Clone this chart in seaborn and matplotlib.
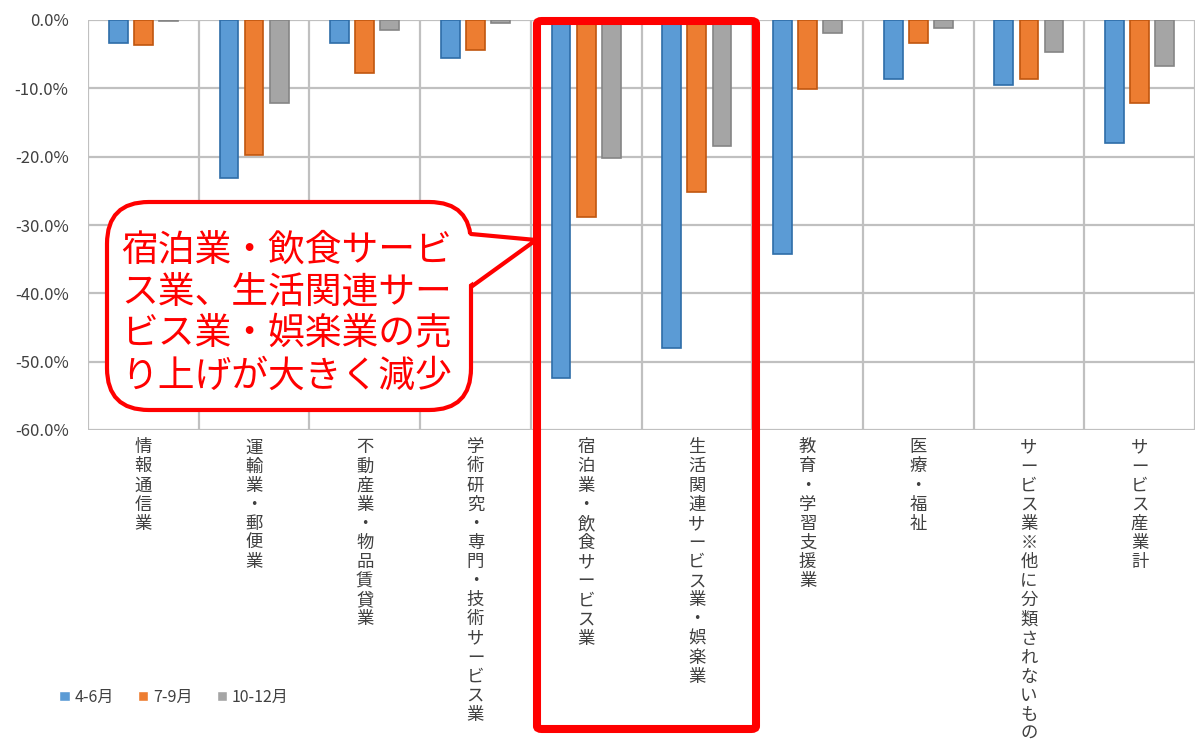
import matplotlib
matplotlib.use("Agg")
import matplotlib.pyplot as plt
import matplotlib.patches as mpatches
from matplotlib.lines import Line2D
import numpy as np
import pandas as pd
import seaborn as sns

# --- data (percent change of sales) ---
categories = [
    "情報通信業",
    "運輸業・郵便業",
    "不動産業・物品賃貸業",
    "学術研究・専門・技術サービス業",
    "宿泊業・飲食サービス業",
    "生活関連サービス業・娯楽業",
    "教育・学習支援業",
    "医療・福祉",
    "サービス業※他に分類されないもの",
    "サービス産業計",
]
periods = ["4-6月", "7-9月", "10-12月"]
q_apr_jun = [-3.4, -23.1, -3.4, -5.6, -52.4, -48.0, -34.3, -8.6, -9.5, -18.0]
q_jul_sep = [-3.7, -19.8, -7.8, -4.4, -28.8, -25.2, -10.1, -3.4, -8.6, -12.2]
q_oct_dec = [-0.2, -12.2, -1.5, -0.4, -20.2, -18.4, -1.9, -1.2, -4.7, -6.7]
callout_text = "宿泊業・飲食サービ\nス業、生活関連サー\nビス業・娯楽業の売\nり上げが大きく減少"

face_colors = ["#5B9BD5", "#ED7D31", "#A5A5A5"]
edge_colors = ["#2E6DA8", "#C0560F", "#858585"]

df = pd.DataFrame({
    "category": categories * 3,
    "period": np.repeat(periods, len(categories)),
    "value": q_apr_jun + q_jul_sep + q_oct_dec,
})

sns.set_theme(style="white")
plt.rcParams["font.family"] = ["Noto Sans CJK JP", "DejaVu Sans"]

W, H = 1195, 742
fig = plt.figure(figsize=(W / 100, H / 100), dpi=100)
ax = fig.add_axes([88 / W, 1 - 430 / H, 1 - 88 / W, (430 - 20) / H])


def fig_xy(x, y):
    return x / W, 1 - y / H


sns.barplot(data=df, x="category", y="value", hue="period", palette=face_colors,
            saturation=1, width=0.68, gap=0.25, ax=ax)
for cont, ec in zip(ax.containers, edge_colors):
    for bar in cont:
        bar.set_edgecolor(ec)
        bar.set_linewidth(1.2)

ax.set_ylim(-60, 0)
ax.set_xlim(-0.5, len(categories) - 0.5)
ax.set_yticks(np.arange(-60, 1, 10))
ax.set_yticklabels([f"{v:.1f}%" for v in np.arange(-60, 1, 10)])
ax.set_xticks(range(len(categories)))
ax.set_xticklabels(["\n".join(c) for c in categories], va="top", linespacing=1.08)
ax.set_xticks(np.arange(-0.5, len(categories), 1), minor=True)
ax.tick_params(axis="y", labelsize=12, pad=14, colors="#404040", length=0)
ax.tick_params(axis="x", labelsize=12.5, pad=6, colors="#404040", length=0)
ax.tick_params(axis="x", which="minor", length=0)
ax.set_xlabel("")
ax.set_ylabel("")
ax.grid(axis="y", which="major", color="#C0C0C0", linewidth=1.6)
ax.grid(axis="x", which="minor", color="#C0C0C0", linewidth=1.6)
ax.set_axisbelow(True)
for s in ax.spines.values():
    s.set_visible(False)

handles, labels = ax.get_legend_handles_labels()
ax.get_legend().remove()
fig.legend(handles, labels, loc="center left", bbox_to_anchor=fig_xy(45, 697),
           ncol=3, frameon=False, fontsize=11.5, handlelength=0.65, handleheight=0.65,
           handletextpad=0.3, columnspacing=1.5, labelcolor="#404040")

# red highlight rectangle
x0, y0 = fig_xy(537, 729)
x1, y1 = fig_xy(756, 21)
fig.patches.append(mpatches.FancyBboxPatch(
    (x0, y0), x1 - x0, y1 - y0, boxstyle="round,pad=0,rounding_size=0.004",
    transform=fig.transFigure, fill=False, edgecolor="#FF0000", linewidth=5.8, zorder=20))

# callout bubble
bx0, by0 = fig_xy(107, 410)
bx1, by1 = fig_xy(471, 202)
fig.patches.append(mpatches.FancyBboxPatch(
    (bx0, by0), bx1 - bx0, by1 - by0, boxstyle="round,pad=0,rounding_size=0.035",
    transform=fig.transFigure, facecolor="white", edgecolor="#FF0000", linewidth=3, zorder=21,
    mutation_aspect=W / H))
t_top = fig_xy(471, 234)
t_tip = fig_xy(536, 240)
t_bot = fig_xy(471, 287)
inner = (t_top[0] - 6 / W, t_top[1]), t_tip, (t_bot[0] - 6 / W, t_bot[1])
fig.patches.append(mpatches.Polygon(inner, closed=True, facecolor="white", edgecolor="none",
                                    transform=fig.transFigure, zorder=22))
fig.lines.append(Line2D([t_top[0], t_tip[0], t_bot[0]], [t_top[1], t_tip[1], t_bot[1]],
                        color="#FF0000", linewidth=3, transform=fig.transFigure, zorder=23))
tx, ty = fig_xy(121, 313)
fig.text(tx, ty, callout_text, color="#FF0000", fontsize=26.5, ha="left", va="center",
         linespacing=1.1, zorder=24)

fig.savefig("out.png", dpi=100)
